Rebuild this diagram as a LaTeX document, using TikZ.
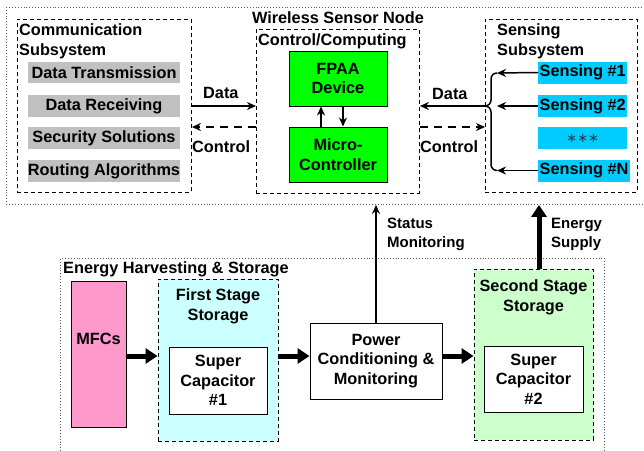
\documentclass[tikz,border=0pt]{standalone}
\usepackage{fontspec}
\setmainfont{Liberation Sans}
\newfontfamily\symfont{DejaVu Sans}
\usetikzlibrary{arrows.meta}

\definecolor{fpaagreen}{RGB}{0,255,0}
\definecolor{sensecyan}{RGB}{0,204,255}
\definecolor{mfcpink}{RGB}{255,153,204}
\definecolor{firstfill}{RGB}{204,255,255}
\definecolor{secondfill}{RGB}{204,255,204}
\definecolor{taskgray}{RGB}{192,192,192}
\definecolor{dotline}{RGB}{90,90,90}
\definecolor{stargray}{RGB}{45,60,90}

\tikzset{
  txt/.style={font=\bfseries\fontsize{16.3}{19.5}\selectfont},
  smalltxt/.style={font=\bfseries\fontsize{15}{19}\selectfont},
  outer/.style={draw=dotline, line width=0.9pt, dotted, inner sep=0pt},
  grp/.style={draw, line width=0.9pt, dash pattern=on 4pt off 3pt, inner sep=0pt},
  blk/.style={draw, line width=1pt, inner sep=0pt, align=center, txt},
  task/.style={fill=taskgray, inner sep=0pt, minimum width=152pt, minimum height=21.5pt, txt},
  sensebox/.style={fill=sensecyan, inner xsep=1.5pt, inner ysep=0pt, minimum height=22pt, anchor=west, txt},
  thinarrow/.style={line width=1.5pt, -{Stealth[length=9pt,width=8pt]}},
  dasharrow/.style={line width=1.8pt, dash pattern=on 8pt off 6pt, -{Stealth[length=9pt,width=8pt]}},
  fatarrow/.style={line width=5pt, -{Triangle[length=12pt,width=15pt]}},
  lbl/.style={anchor=base west, inner sep=0pt, txt},
}

\begin{document}
\begin{tikzpicture}[x=1pt,y=-1pt]
\useasboundingbox (0,0) rectangle (644,450);

% ---------- wireless sensor node ----------
\node[outer, minimum width=650pt, minimum height=197pt, anchor=north west] (wsn) at (6,7) {};
\node[anchor=base, inner sep=0pt, txt] (wsntitle) at (338,23) {Wireless Sensor Node};

% communication subsystem
\node[grp, minimum width=174pt, minimum height=173pt, anchor=north west] (comm) at (17,19) {};
\node[lbl] (commt1) at (19,35) {Communication};
\node[lbl] (commt2) at (19,55) {Subsystem};
\node[task] (tx)  at (104,72.5) {Data Transmission};
\node[task] (rx)  at (104,106) {Data Receiving};
\node[task] (sec) at (104,138) {Security Solutions};
\node[task] (rt)  at (104,171) {Routing Algorithms};

% control / computing
\node[grp, minimum width=163pt, minimum height=164pt, anchor=north west] (ctrl) at (256,29) {};
\node[lbl] (ctrlt) at (258,45) {Control/Computing};
\node[blk, fill=fpaagreen, minimum width=98pt, minimum height=55pt] (fpaa) at (338,78.5) {FPAA\\Device};
\node[blk, fill=fpaagreen, minimum width=98pt, minimum height=55pt] (mcu) at (338,154.5) {Micro-\\Controller};
\coordinate (upx) at (321,0);
\coordinate (dnx) at (343,0);
\draw[thinarrow] (mcu.north -| upx) -- (fpaa.south -| upx);
\draw[thinarrow] (fpaa.south -| dnx) -- (mcu.north -| dnx);

% sensing subsystem
\node[grp, minimum width=152pt, minimum height=173pt, anchor=north west] (sens) at (485,19) {};
\node[lbl] (senst1) at (497,35) {Sensing};
\node[lbl] (senst2) at (497,55) {Subsystem};
\node[sensebox] (s1) at (538,72.5) {Sensing \#1};
\node[sensebox] (s2) at (538,106) {Sensing \#2};
\node[sensebox, minimum width=89pt, font=\symfont\fontsize{13}{16}\selectfont, text=stargray] (s3) at (538,138) {∗∗∗};
\node[sensebox] (sn) at (538,170.5) {Sensing \#N};

% brace gathering the sensor outputs
\coordinate (bt) at (497,73);
\coordinate (bm) at (497,106);
\coordinate (bb) at (497,170.5);
\coordinate (bp) at (485,106);
\draw[thinarrow] (s1.west) -- (bt);
\draw[thinarrow] (s2.west) -- (bm);
\draw[thinarrow] (sn.west) -- (bb);
\draw[line width=1.5pt] (bt) to[out=180,in=90] (491,79) -- (491,100)
  to[out=270,in=0] (bp) to[out=0,in=90] (491,112) -- (491,164.5)
  to[out=270,in=180] (bb);

% data / control links
\coordinate (dy) at (0,106);
\coordinate (cy) at (0,127);
\draw[thinarrow] (comm.east |- dy) -- (ctrl.west |- dy);
\draw[dasharrow] (ctrl.west |- cy) -- (comm.east |- cy);
\node[lbl] (dl) at (203,98) {Data};
\node[lbl] (cl) at (192,152) {Control};
\draw[thinarrow] (bp) -- (ctrl.east |- bp);
\draw[dasharrow] (ctrl.east |- cy) -- (sens.west |- cy);
\node[lbl] (dr) at (432,99) {Data};
\node[lbl] (cr) at (420,152) {Control};

% ---------- energy harvesting & storage ----------
\node[outer, minimum width=544pt, minimum height=205pt, anchor=north west] (ehs) at (60,258) {};
\node[lbl] (ehst) at (63,273) {Energy Harvesting \& Storage};

\node[blk, fill=mfcpink, minimum width=55pt, minimum height=146pt] (mfc) at (98.5,354) {};
\node[inner sep=0pt, txt] (mfct) at (98.5,339) {MFCs};

\node[grp, fill=firstfill, minimum width=120pt, minimum height=162pt] (first) at (218,360) {};
\node[anchor=base, inner sep=0pt, txt] (firstt1) at (218,300) {First Stage};
\node[anchor=base, inner sep=0pt, txt] (firstt2) at (218,320) {Storage};
\node[blk, fill=white, minimum width=98pt, minimum height=67pt] (cap1) at (218,380.5) {Super\\Capacitor\\\#1};

\node[blk, fill=white, minimum width=132pt, minimum height=76pt] (pcm) at (376,361) {Power\\Conditioning \&\\Monitoring};

\node[grp, fill=secondfill, minimum width=119pt, minimum height=171pt] (second) at (533.5,354.5) {};
\node[anchor=base, inner sep=0pt, txt] (secondt1) at (533.5,291) {Second Stage};
\node[anchor=base, inner sep=0pt, txt] (secondt2) at (533.5,311) {Storage};
\node[blk, fill=white, minimum width=99pt, minimum height=66pt] (cap2) at (533.5,379) {Super\\Capacitor\\\#2};

% power flow
\coordinate (fy) at (0,356);
\draw[fatarrow] (mfc.east |- fy) -- (first.west |- fy);
\draw[fatarrow] (first.east |- fy) -- (pcm.west |- fy);
\draw[fatarrow] (pcm.east |- fy) -- (second.west |- fy);

% links up to the sensor node
\coordinate (ex) at (539,0);
\draw[thinarrow] (pcm.north) -- (pcm.north |- wsn.south);
\draw[fatarrow] (second.north -| ex) -- (wsn.south -| ex);
\node[anchor=base west, inner sep=0pt, smalltxt] (st1) at (387,228) {Status};
\node[anchor=base west, inner sep=0pt, smalltxt] (st2) at (387,247) {Monitoring};
\node[anchor=base west, inner sep=0pt, smalltxt] (es1) at (551,228) {Energy};
\node[anchor=base west, inner sep=0pt, smalltxt] (es2) at (551,247) {Supply};
\end{tikzpicture}
\end{document}
